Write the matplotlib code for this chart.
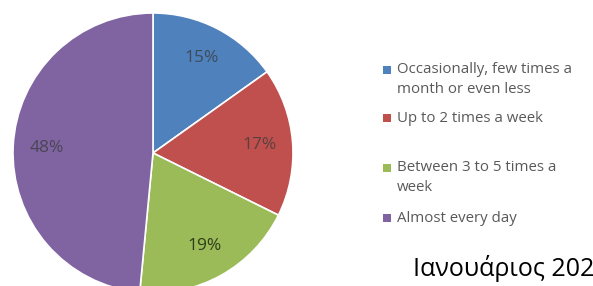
import matplotlib.pyplot as plt
from matplotlib.patches import Rectangle

labels = ['Occasionally, few times a\nmonth or even less',
          'Up to 2 times a week',
          'Between 3 to 5 times a\nweek',
          'Almost every day']
values = [15, 17, 19, 48]
colors = ['#4F81BD', '#C0504D', '#9BBB59', '#8064A2']
caption = 'Ιανουάριος 2020'

fig = plt.figure(figsize=(5.93, 2.86), dpi=100)

# pie: centre ~ (153, 153) px, radius ~ 140 px, clipped at bottom
ax = fig.add_axes([(153 - 140) / 593, (286 - 153 - 140) / 286, 280 / 593, 280 / 286])
wedges, texts, autotexts = ax.pie(values, colors=colors, startangle=90, counterclock=False,
                                  autopct='%d%%', pctdistance=0.76,
                                  wedgeprops=dict(edgecolor='white', linewidth=1.2),
                                  textprops=dict(fontsize=12.5, color='#3a3a3a', family='Open Sans'))
autotexts[2].set_color('#2f3d1a')
for t in autotexts[:2] + [autotexts[3]]:
    t.set_alpha(0.75)
ax.set_aspect('equal')
ax.set_xlim(-1, 1)
ax.set_ylim(-1, 1)
ax.axis('off')

# legend, Excel style with uneven spacing
legend_y = [70, 118, 168, 218]
for lab, col, y in zip(labels, colors, legend_y):
    fig.patches.append(Rectangle((383 / 593, 1 - (y + 4) / 286), 8 / 593, 8 / 286,
                                 transform=fig.transFigure, facecolor=col, edgecolor='none'))
    t = fig.text(397 / 593, 1 - y / 286, lab, fontsize=10.8, color='#595959', family='Open Sans',
                 va='center', ha='left', linespacing=1.42)
    # multi-line labels are anchored at first line
    if '\n' in lab:
        t.set_va('top')
        t.set_position((397 / 593, 1 - (y - 8) / 286))

fig.text(413 / 593, 1 - 276 / 286, caption, fontsize=18, color='black', family='Open Sans',
         va='baseline', ha='left')

fig.savefig('out.png', dpi=100)
